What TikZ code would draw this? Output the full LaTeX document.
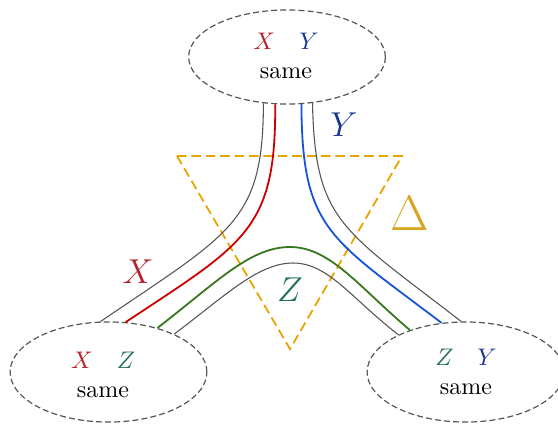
\documentclass[tikz,border=0pt]{standalone}
\usetikzlibrary{shapes.geometric}
\definecolor{lblred}{RGB}{178,34,44}
\definecolor{lblblue}{RGB}{25,55,145}
\definecolor{lblgreen}{RGB}{35,115,80}
\definecolor{linered}{RGB}{205,0,0}
\definecolor{lineblue}{RGB}{20,85,215}
\definecolor{linegreen}{RGB}{55,120,30}
\definecolor{edgegray}{RGB}{85,85,85}
\definecolor{triorange}{RGB}{230,165,0}
\definecolor{deltagold}{RGB}{215,165,35}
\tikzset{
  blob/.style={draw=edgegray, line width=0.5pt, dash pattern=on 2.5pt off 1.3pt, ellipse, inner sep=0pt, minimum width=82pt},
  txt/.style={align=center, inner sep=0pt, font=\normalsize},
  grayline/.style={draw=edgegray, line width=0.45pt},
  redline/.style={draw=linered, line width=0.75pt},
  blueline/.style={draw=lineblue, line width=0.75pt},
  greenline/.style={draw=linegreen, line width=0.75pt},
  tri/.style={draw=triorange, line width=0.75pt, dash pattern=on 4pt off 2pt},
  biglbl/.style={font=\Large, inner sep=0pt}
}
\begin{document}
\begin{tikzpicture}[x=0.4167pt,y=-0.4167pt]
\useasboundingbox (0,0) rectangle (558,423);

% ellipses
\node[blob, minimum height=39.2pt] (top) at (287,57) {};
\node[blob, minimum height=41.7pt] (left) at (108.5,372) {};
\node[blob, minimum height=41.7pt] (right) at (465.5,372) {};

% texts inside
\node[txt] (ttop) at (286,56) {\textcolor{lblred}{$X$}\quad\textcolor{lblblue}{$Y$}\\same};
\node[txt] (tleft) at (103,375) {\textcolor{lblred}{$X$}\quad\textcolor{lblgreen}{$Z$}\\same};
\node[txt] (tright) at (466,372) {\textcolor{lblgreen}{$Z$}\quad\textcolor{lblblue}{$Y$}\\same};

% triangle
\coordinate (ta) at (177,156);
\coordinate (tb) at (402,156);
\coordinate (tc) at (290,349);
\draw[tri] (ta) -- (tb) -- (tc) -- cycle;

% ribbons
\draw[grayline] (top.243.9) .. controls (263,222) and (232,232) .. (left.99.8);
\draw[redline] (top.256.8) .. controls (276,230) and (245,243) .. (left.71.4);
\draw[blueline] (top.287.7) .. controls (302,230) and (330,238) .. (right.116.1);
\draw[grayline] (top.299.9) .. controls (315,222) and (342,229) .. (right.95.8);
\coordinate (gpeak) at (290,247);
\coordinate (ipeak) at (293,263);
\draw[greenline] (left.42.9) .. controls (217,282) and (250,247) .. (gpeak) .. controls (330,247) and (358,286) .. (right.143.6);
\draw[grayline] (left.30.4) .. controls (225,296) and (258,263) .. (ipeak) .. controls (328,263) and (350,297) .. (right.151.5);

% labels
\node[biglbl, text=lblred] (lx) at (138,272) {$X$};
\node[biglbl, text=lblblue] (ly) at (344,125) {$Y$};
\node[biglbl, text=lblgreen] (lz) at (290,290) {$Z$};
\node[font=\huge, inner sep=0pt, text=deltagold] (ld) at (410,213) {$\Delta$};
\end{tikzpicture}
\end{document}
